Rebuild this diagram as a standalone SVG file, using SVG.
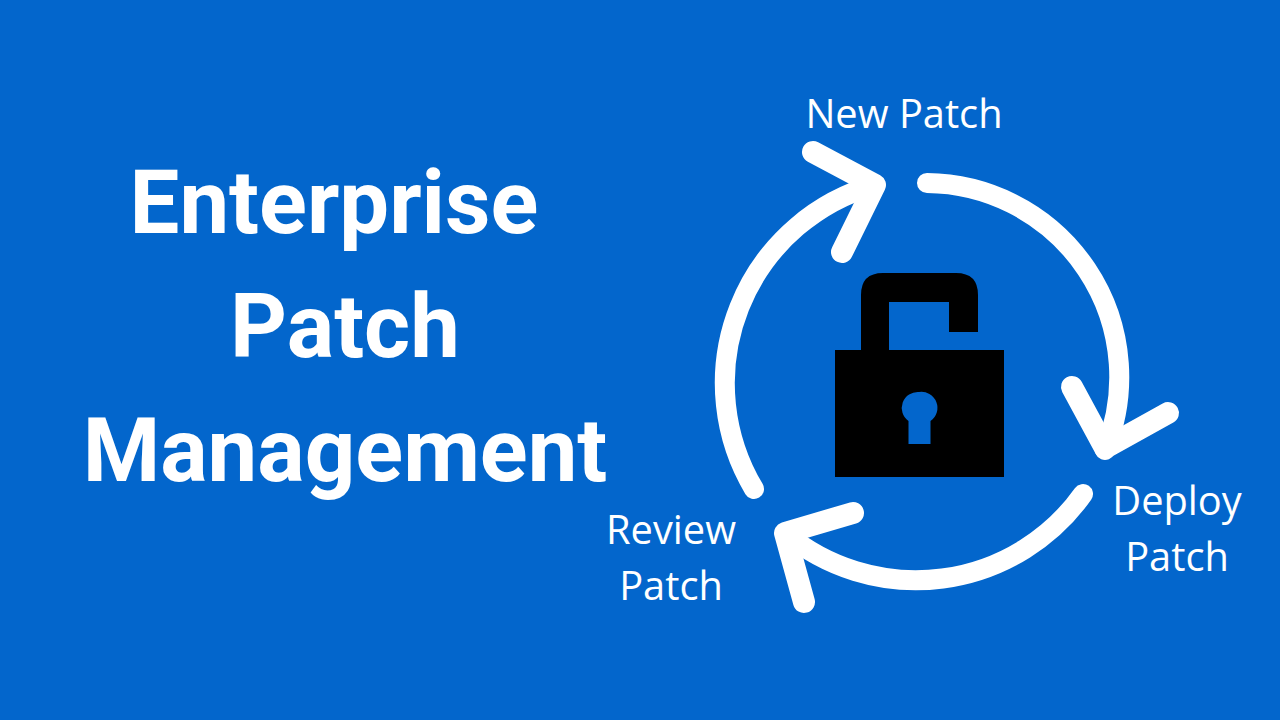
<svg xmlns="http://www.w3.org/2000/svg" width="1280" height="720" viewBox="0 0 1280 720">
<style>
.title{font-family:Roboto,"Liberation Sans",sans-serif;font-weight:700;font-size:88.6px;fill:#fff;text-anchor:middle}
.label{font-family:"Open Sans","Noto Sans",sans-serif;font-size:39.8px;fill:#fff;text-anchor:middle}
.arrow{fill:none;stroke:#fff;stroke-width:20;stroke-linecap:round;stroke-linejoin:round}
.head{fill:none;stroke:#fff;stroke-width:22;stroke-linecap:round;stroke-linejoin:round}
</style>
<rect width="1280" height="720" fill="#0366cc"/>
<g id="title">
<text class="title" x="334" y="233">Enterprise</text>
<text class="title" x="345" y="357">Patch</text>
<text class="title" x="345" y="481">Management</text>
</g>
<g id="connectors">
<path class="arrow" d="M927 183A194 194 0 0 1 1105 450"/>
<path class="head" d="M1072 387L1105 448L1168 413"/>
<path class="arrow" d="M1083 494A205 205 0 0 1 785 533"/>
<path class="head" d="M853 513L785 533L804 602"/>
<path class="arrow" d="M754 489A206 206 0 0 1 875 185"/>
<path class="head" d="M813 152L875 185L842 252"/>
</g>
<g id="lock">
<path fill="#000" fill-rule="evenodd" d="M835 350H861V295Q861 273 883 273H956Q978 273 978 295V332H949V302H889V350H1004V477H835ZM919 392A16 16 0 0 0 908.500 421V444H930.500V421A16 16 0 0 0 919 392Z"/>
</g>
<g id="new-patch"><text class="label" x="904" y="128">New Patch</text></g>
<g id="deploy-patch"><text class="label" x="1177" y="515">Deploy</text><text class="label" x="1177" y="571">Patch</text></g>
<g id="review-patch"><text class="label" x="671" y="544">Review</text><text class="label" x="671" y="600">Patch</text></g>
</svg>
